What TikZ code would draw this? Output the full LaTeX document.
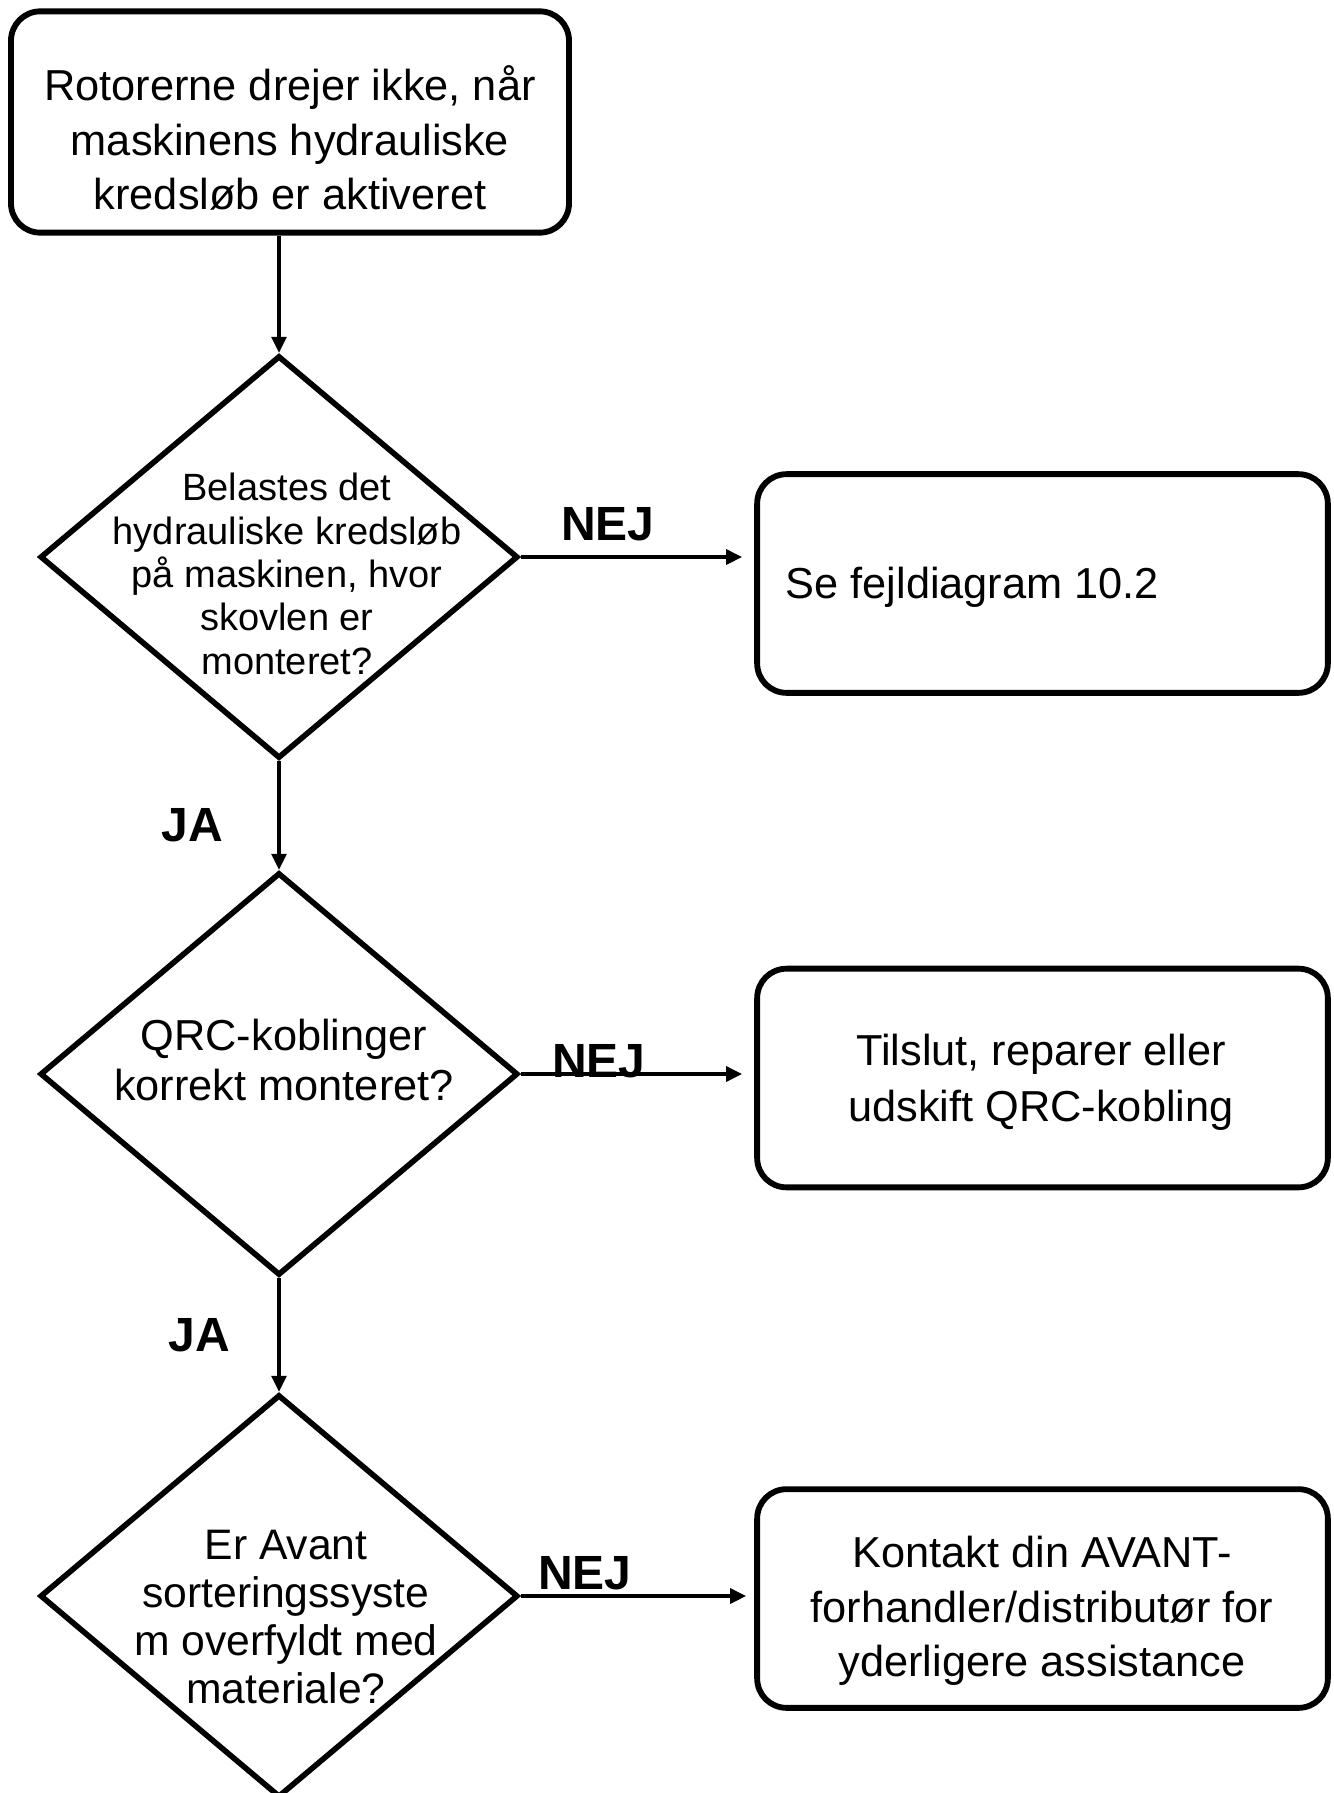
\documentclass[tikz,border=0pt]{standalone}
\usepackage{fontspec}
\setmainfont{Liberation Sans}
\usetikzlibrary{arrows.meta,positioning,shapes.geometric}

\begin{document}
\begin{tikzpicture}[x=0.75pt, y=-0.75pt, >={Triangle[length=12pt,width=11pt]},
  stepbox/.style={draw, line width=4.4pt, rounded corners=22pt, minimum width=428pt, minimum height=164pt},
  decision/.style={draw, diamond, line width=4.2pt, minimum width=358.5pt, minimum height=302pt, inner sep=0pt},
  answer/.style={font=\bfseries\fontsize{36}{40}\selectfont},
  link/.style={->, line width=2.8pt}]
  \path[use as bounding box] (0,0) rectangle (1334,1793);

  % start
  \node[stepbox, minimum width=418.5pt, minimum height=166pt] (start) at (290,122) {};
  \node[align=center, font=\fontsize{32.5}{41}\selectfont] (starttext) at (290,138)
    {Rotorerne drejer ikke, når\\maskinens hydrauliske\\kredsløb er aktiveret};

  % questions
  \node[decision] (load) at (279,557) {};
  \node[align=center, font=\fontsize{28.5}{32.5}\selectfont] (loadtext) at (287,574)
    {Belastes det\\hydrauliske kredsløb\\på maskinen, hvor\\skovlen er\\monteret?};
  \node[decision] (qrc) at (279,1074) {};
  \node[align=center, font=\fontsize{32.5}{37.5}\selectfont] (qrctext) at (284,1060)
    {QRC-koblinger\\korrekt monteret?};
  \node[decision] (full) at (279,1596) {};
  \node[align=center, font=\fontsize{32}{36}\selectfont] (fulltext) at (286,1617)
    {Er Avant\\sorteringssyste\\m overfyldt med\\materiale?};

  % actions
  \node[stepbox] (chart) at (1042.5,583.5) {};
  \node[anchor=west, font=\fontsize{32.5}{41}\selectfont] (charttext) at (781,587)
    {Se fejldiagram 10.2};
  \node[stepbox] (fix) at (1042.5,1078) {};
  \node[align=center, font=\fontsize{32.5}{42}\selectfont] (fixtext) at (1041,1082)
    {Tilslut, reparer eller\\udskift QRC-kobling};
  \node[stepbox] (dealer) at (1042.5,1598.5) {};
  \node[align=center, font=\fontsize{32.5}{41}\selectfont] (dealertext) at (1042,1611)
    {Kontakt din AVANT-\\forhandler/distributør for\\yderligere assistance};

  % connectors
  \draw[link] (start.south -| load.north) -- (load.north);
  \draw[link] (load.south) -- (qrc.north);
  \draw[link] (qrc.south) -- (full.north);
  \draw[link, shorten >=9pt] (load.east) -- (load.east -| chart.west);
  \draw[link, shorten >=9pt] (qrc.east) -- (qrc.east -| fix.west);
  \draw[link, shorten >=6pt] (full.east) -- (full.east -| dealer.west);

  \node[answer] (no1) at (608,524) {NEJ};
  \node[answer] (no2) at (599,1061) {NEJ};
  \node[answer] (no3) at (585,1573) {NEJ};
  \node[answer] (yes1) at (192,825) {JA};
  \node[answer] (yes2) at (199,1335) {JA};
\end{tikzpicture}
\end{document}
